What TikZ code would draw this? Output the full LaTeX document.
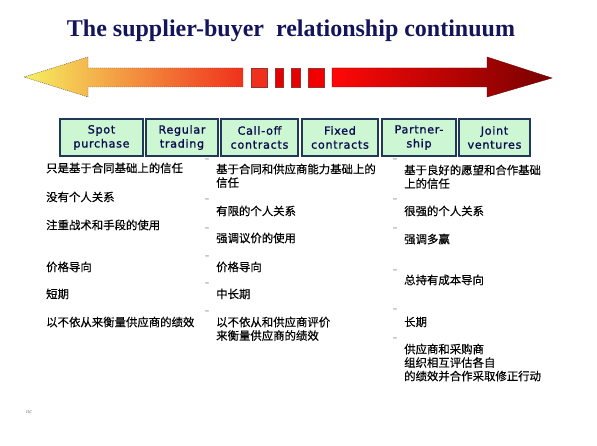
\documentclass[tikz,border=0pt]{standalone}
\usepackage{fontspec}
\setmainfont{Liberation Serif}
\newfontfamily\cjk[FakeBold=0.4]{Noto Sans CJK SC}
\newfontfamily\boxfont[LetterSpace=6,FakeBold=1.2]{DejaVu Sans}
\newfontfamily\dotfont{DejaVu Sans}
\definecolor{titleblue}{HTML}{14145C}
\definecolor{boxedge}{HTML}{1F3A58}
\definecolor{boxfill}{HTML}{CCF7D2}
\definecolor{boxtext}{HTML}{0C0C50}
\definecolor{tipyellow}{HTML}{F6F062}
\definecolor{midorange}{HTML}{F8A445}
\definecolor{hotred}{HTML}{F0301C}
\definecolor{brightred}{HTML}{FF0808}
\definecolor{darkred}{HTML}{780000}
\begin{document}
\begin{tikzpicture}[x=1pt,y=-1pt,
stage/.style={draw=boxedge,fill=boxfill,line width=1.4pt,minimum height=37pt,inner sep=0pt,align=center,text=boxtext,font=\boxfont\fontsize{11.2}{14}\selectfont},
item/.style={anchor=north west,inner sep=0pt,align=left,text=black,font=\cjk\fontsize{11.4}{13.5}\selectfont},
tick/.style={inner sep=0pt,text=black!70,font=\dotfont\fontsize{10}{10}\selectfont},
gap/.style={fill=hotred,draw=darkred!80,line width=0.4pt}]
\useasboundingbox (0,0) rectangle (597,446);
\fill[white] (0,0) rectangle (597,446);

\node[text=titleblue,font=\fontsize{24}{28}\selectfont\bfseries] (title) at (291,31) {The supplier-buyer\ \ relationship continuum};

% the continuum arrow
\shade[left color=tipyellow,middle color=midorange,right color=hotred] (24,77) -- (88,57) -- (88,68) -- (243,68) -- (243,87) -- (88,87) -- (88,97) -- cycle;
\draw[black!70,line width=0.4pt,dash pattern=on 1pt off 1pt] (243,68) -- (88,68) -- (88,57) -- (24,77) -- (88,97) -- (88,87) -- (243,87);
\draw[gap] (251,68) rectangle (267,87);
\draw[gap,fill=red!90!black] (275,68) rectangle (283,87);
\draw[gap,fill=red!90!black] (291,68) rectangle (300,87);
\draw[gap,fill=red!95!black] (308,68) rectangle (324,87);
\shade[left color=brightred,middle color=red!85!black,right color=darkred] (332,68) -- (487,68) -- (487,57) -- (552,78) -- (487,97) -- (487,87) -- (332,87) -- cycle;
\draw[darkred,line width=0.4pt] (332,68) -- (487,68) -- (487,57) -- (552,78) -- (487,97) -- (487,87) -- (332,87) -- cycle;

% stages
\node[stage,minimum width=83pt] (spot) at (101.5,137.5) {Spot\\purchase};
\node[stage,minimum width=72pt] (regular) at (182,137.5) {Regular\\trading};
\node[stage,minimum width=77pt] (calloff) at (259.5,137.5) {Call-off\\contracts};
\node[stage,minimum width=76pt] (fixed) at (340,137.5) {Fixed\\contracts};
\node[stage,minimum width=74pt] (partner) at (419,137.5) {Partner-\\ship};
\node[stage,minimum width=71pt] (joint) at (494.5,137.5) {Joint\\ventures};

% left column
\node[item] (l1) at (46,162.5) {只是基于合同基础上的信任};
\node[item] (l2) at (46,191.5) {没有个人关系};
\node[item] (l3) at (46,219.5) {注重战术和手段的使用};
\node[item] (l4) at (46,261.5) {价格导向};
\node[item] (l5) at (46,288.5) {短期};
\node[item] (l6) at (46,316.5) {以不依从来衡量供应商的绩效};

% middle column
\node[tick] (bm1) at (207,163) {¨};
\node[item] (m1) at (216,163.5) {基于合同和供应商能力基础上的\\信任};
\node[tick] (bm2) at (207,203) {¨};
\node[item] (m2) at (216,205.5) {有限的个人关系};
\node[tick] (bm3) at (207,232) {¨};
\node[item] (m3) at (216,232.5) {强调议价的使用};
\node[tick] (bm4) at (207,260) {¨};
\node[item] (m4) at (216,261.5) {价格导向};
\node[tick] (bm5) at (207,287) {¨};
\node[item] (m5) at (216,288.5) {中长期};
\node[tick] (bm6) at (207,315) {¨};
\node[item] (m6) at (216,316.5) {以不依从和供应商评价\\来衡量供应商的绩效};

% right column
\node[tick] (br1) at (395,163) {¨};
\node[item] (r1) at (404,164.5) {基于良好的愿望和合作基础\\上的信任};
\node[tick] (br2) at (395,203) {¨};
\node[item] (r2) at (404,205.5) {很强的个人关系};
\node[tick] (br3) at (395,232) {¨};
\node[item] (r3) at (404,233.5) {强调多赢};
\node[tick] (br4) at (395,274) {¨};
\node[item] (r4) at (404,274.5) {总持有成本导向};
\node[tick] (br5) at (395,313) {¨};
\node[item] (r5) at (404,316.5) {长期};
\node[tick] (br6) at (395,342) {¨};
\node[item] (r6) at (404,343.5) {供应商和采购商\\组织相互评估各自\\的绩效并合作采取修正行动};

\node[text=black!55,font=\itshape\fontsize{6}{6}\selectfont] (mark) at (29,412) {ııc};
\end{tikzpicture}
\end{document}
